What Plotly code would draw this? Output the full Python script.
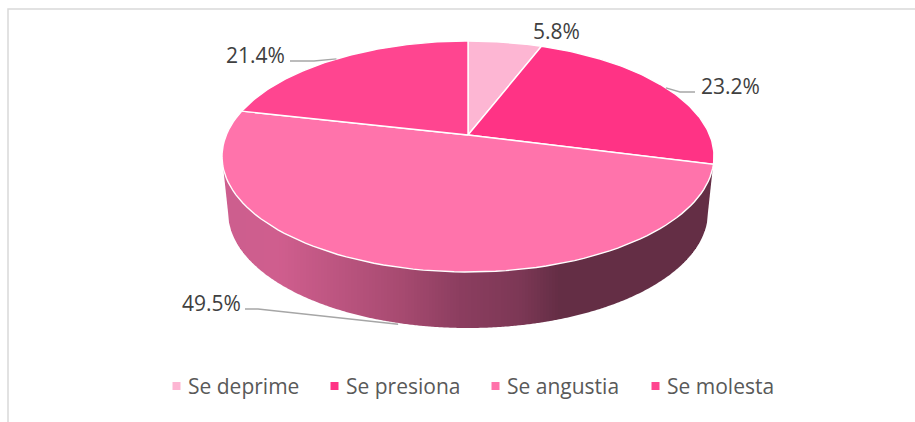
import numpy as np
import plotly.graph_objects as go

categories = ["Se deprime", "Se presiona", "Se angustia", "Se molesta"]
values = [5.8, 23.2, 49.5, 21.4]
labels = ["5.8%", "23.2%", "49.5%", "21.4%"]
colors = ["#FDB6D3", "#FF3385", "#FF73AB", "#FF4590"]

# projection of the pie disc on the page
CX, CY, RX, RY = 468.0, 156.5, 246.0, 115.5
BCX, BCY, BRX, BRY = 468.0, 212.0, 240.0, 116.0
TILT = 0.186
# side wall shading: x position -> rgb
SHADE_X = [228, 280, 340, 400, 460, 520, 560, 710]
SHADE_RGB = [(205, 94, 142), (208, 94, 142), (188, 85, 128), (168, 75, 113),
             (140, 62, 96), (125, 56, 86), (100, 46, 69), (100, 46, 69)]
LABEL_STYLE = [
    {"leader": [], "text": (556, 31), "drop": 0},
    {"leader": [(680, 92), (695, 92)], "text": (730, 86), "drop": 0},
    {"leader": [(258, 309), (245, 309)], "text": (211, 303), "drop": 57},
    {"leader": [(314, 61), (290, 61)], "text": (255, 55), "drop": 0},
]
LEGEND_X = [173, 331, 492, 652]
LEGEND_Y = 386


def project(theta):
    """Angle clockwise from the top of the pie -> page position (perspective of the disc)."""
    u, v = np.sin(theta), np.cos(theta)
    d = 1 + TILT * v
    return CX + RX * u * np.sqrt(1 - TILT ** 2) / d, CY - RY * (v + TILT) / d


def wall_bottom(x):
    """Lower outline of the side wall at page position x."""
    dx = (x - BCX) / BRX
    if abs(dx) <= 1:
        return BCY + BRY * np.sqrt(1 - dx ** 2)
    frac = (abs(x - CX) - BRX) / (RX - BRX)
    return BCY + (CY - BCY) * min(frac, 1)


apex = (CX, CY - RY * TILT)
total = sum(values)
edges = np.cumsum([0] + values) / total * 2 * np.pi

fig = go.Figure()

# side wall as vertical bands so that the shading varies along x
STEP = 3
x0 = int(CX - RX)
x1 = int(CX + RX)
for xa in range(x0, x1, STEP):
    xs = np.arange(xa, min(xa + STEP, x1) + 1)
    lower = [wall_bottom(float(v)) for v in xs]
    rgb = [int(np.interp(xa + STEP / 2, SHADE_X, [c[i] for c in SHADE_RGB])) for i in range(3)]
    col = f"rgb({rgb[0]},{rgb[1]},{rgb[2]})"
    fig.add_trace(go.Scatter(
        x=[xs[0]] + list(xs) + [xs[-1], xs[0]],
        y=[CY] + lower + [CY, CY],
        mode="lines", fill="toself", fillcolor=col,
        line=dict(width=0), hoverinfo="skip", showlegend=False,
    ))

# top faces
for i, name in enumerate(categories):
    th = np.linspace(edges[i], edges[i + 1], 90)
    px, py = project(th)
    fig.add_trace(go.Scatter(
        x=[apex[0]] + list(px) + [apex[0]], y=[apex[1]] + list(py) + [apex[1]],
        mode="lines", fill="toself", fillcolor=colors[i],
        line=dict(color="#FFFFFF", width=1.4), name=name, hoverinfo="name", showlegend=False,
    ))

# leader lines and value labels
for i, lab in enumerate(labels):
    st = LABEL_STYLE[i]
    mid = (edges[i] + edges[i + 1]) / 2
    mx, my = project(mid)
    my = my + st["drop"]
    if st["leader"]:
        fig.add_trace(go.Scatter(
            x=[mx] + [p[0] for p in st["leader"]], y=[my] + [p[1] for p in st["leader"]], mode="lines",
            line=dict(color="#A6A6A6", width=1.4), hoverinfo="skip", showlegend=False,
        ))
    fig.add_annotation(x=st["text"][0], y=st["text"][1], text=lab, showarrow=False,
                       font=dict(family="Open Sans", size=21, color="#404040"))

# legend
for i, name in enumerate(categories):
    fig.add_trace(go.Scatter(
        x=[LEGEND_X[i] + 3.5], y=[LEGEND_Y], mode="markers",
        marker=dict(symbol="square", size=8, color=colors[i]),
        name=name, hoverinfo="name", showlegend=False,
    ))
    fig.add_annotation(x=LEGEND_X[i] + 13, y=LEGEND_Y, text=name, showarrow=False, xanchor="left",
                       font=dict(family="Open Sans", size=21, color="#595959"))

# chart frame
fig.add_shape(type="path", path="M 8 422 L 8 9 L 915 9", line=dict(color="#D9D9D9", width=1.5), layer="below")

fig.update_layout(
    width=915, height=422, margin=dict(l=0, r=0, t=0, b=0),
    paper_bgcolor="#FFFFFF", plot_bgcolor="#FFFFFF", showlegend=False,
    xaxis=dict(range=[0, 915], visible=False, fixedrange=True),
    yaxis=dict(range=[422, 0], visible=False, fixedrange=True),
)
fig.write_html("out.html", config={"displayModeBar": False},
               post_script="document.body.style.margin='0';document.documentElement.style.overflow='hidden';")
